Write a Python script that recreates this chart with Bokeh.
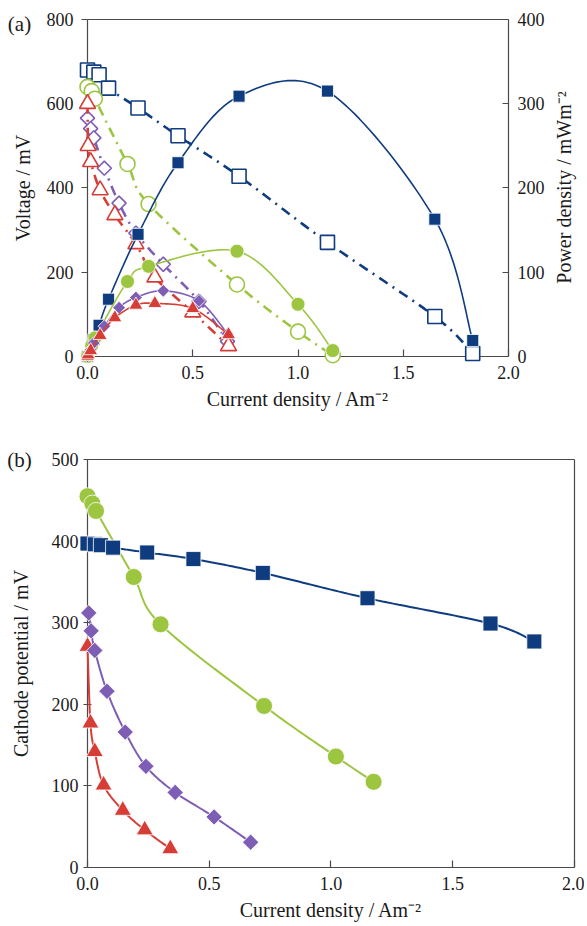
import numpy as np
from bokeh.plotting import figure
from bokeh.models import Range1d, LinearAxis, FixedTicker, PrintfTickFormatter
from bokeh.core.properties import value
from bokeh.layouts import column
from bokeh.embed import file_html
from bokeh.resources import INLINE

# ---------------- Panel (a): cell voltage (left axis, open) and power density (right axis, filled)
a_blue_I   = [0.0, 0.03, 0.055, 0.10, 0.24, 0.43, 0.72, 1.14, 1.65, 1.83]
a_blue_V   = [680, 675, 669, 637, 590, 524, 428, 271, 95, 7]
a_blue_P   = [0, 20, 37, 68, 145, 230, 309, 315, 163, 19]

a_green_I  = [0.0, 0.02, 0.035, 0.19, 0.29, 0.71, 1.0, 1.165]
a_green_V  = [640, 630, 612, 457, 362, 171, 59, 3]
a_green_P  = [0, 13, 22, 89, 107, 125, 62, 7]

a_purple_I = [0.0, 0.015, 0.03, 0.08, 0.15, 0.23, 0.36, 0.53, 0.665]
a_purple_V = [566, 541, 519, 447, 364, 293, 219, 131, 36]
a_purple_P = [0, 8, 16, 36, 58, 70, 78, 66, 27]

a_red_I    = [0.0, 0.003, 0.015, 0.06, 0.13, 0.23, 0.32, 0.50, 0.67]
a_red_V    = [600, 500, 462, 395, 336, 267, 188, 105, 25]
a_red_P    = [0, 2, 7, 25, 46, 61, 63, 57, 26]

# ---------------- Panel (b): cathode potential
b_blue_I   = [0.0, 0.03, 0.055, 0.105, 0.245, 0.435, 0.72, 1.15, 1.655, 1.835]
b_blue_E   = [397, 396, 395, 392, 386, 378, 361, 330, 299, 277]
b_green_I  = [0.0, 0.02, 0.035, 0.19, 0.30, 0.725, 1.02, 1.175]
b_green_E  = [455, 446, 437, 356, 298, 198, 136, 105]
b_purple_I = [0.005, 0.015, 0.03, 0.08, 0.155, 0.24, 0.36, 0.52, 0.67]
b_purple_E = [312, 290, 266, 216, 166, 124, 92, 62, 31]
b_red_I    = [0.0, 0.012, 0.03, 0.066, 0.145, 0.235, 0.34]
b_red_E    = [271, 177, 142, 101, 70, 46, 23]

x_ticks = [0, 0.5, 1.0, 1.5, 2.0]
a_v_ticks = [0, 200, 400, 600, 800]
a_p_ticks = [0, 100, 200, 300, 400]
b_ticks = [0, 100, 200, 300, 400, 500]

FONT = "Liberation Serif"
BLUE = "#0f3c7f"
GREEN = "#9cc540"
PURPLE = "#7e5eb5"
RED = "#d63d37"
AXC = "#4a4a4a"
TXT = "#1a1a1a"


def smooth(xs, ys, n=24):
    """Catmull-Rom curve through the given points (drawing only)."""
    x = np.asarray(xs, float)
    y = np.asarray(ys, float)
    px = np.concatenate([[x[0]], x, [x[-1]]])
    py = np.concatenate([[y[0]], y, [y[-1]]])
    t = np.linspace(0, 1, n, endpoint=False)
    ox, oy = [], []
    for i in range(1, len(px) - 2):
        for arr, out in ((px, ox), (py, oy)):
            p0, p1, p2, p3 = arr[i - 1], arr[i], arr[i + 1], arr[i + 2]
            out.extend(0.5 * (2 * p1 + (-p0 + p2) * t + (2 * p0 - 5 * p1 + 4 * p2 - p3) * t ** 2
                              + (-p0 + 3 * p1 - 3 * p2 + p3) * t ** 3))
    ox.append(x[-1])
    oy.append(y[-1])
    return ox, oy


def style_axis(ax, ticks, loc, bounds, fmt=None, tin=0, tout=6, standoff=8,
               label=None, lstand=6, show_labels=True):
    ax.fixed_location = loc
    ax.bounds = bounds
    ax.level = "underlay"
    ax.ticker = FixedTicker(ticks=ticks)
    ax.minor_tick_line_color = None
    ax.major_tick_in = tin
    ax.major_tick_out = tout
    ax.major_label_standoff = standoff
    ax.major_label_text_font = FONT
    ax.major_label_text_font_size = "18px"
    ax.major_label_text_color = TXT if show_labels else None
    ax.axis_line_color = AXC
    ax.major_tick_line_color = AXC if (tin or tout) else None
    ax.axis_line_width = 1.2
    ax.major_tick_line_width = 1.2
    if fmt:
        ax.formatter = PrintfTickFormatter(format=fmt)
    if label:
        ax.axis_label = label
        ax.axis_label_text_font = FONT
        ax.axis_label_text_font_size = "20px"
        ax.axis_label_text_font_style = "normal"
        ax.axis_label_text_color = TXT
        ax.axis_label_standoff = lstand


def add_text(p, x, y, s, size="20px", angle=0.0):
    p.text(x=[x], y=[y], text=[s], text_font=value(FONT), text_font_size=value(size),
           text_color=TXT, text_align="center", text_baseline="middle", angle=angle)


# ======================= Panel (a) =======================
# whole canvas is the frame; axes are pinned at the data edges
pa = figure(width=580, height=416, x_range=Range1d(-0.41330, 2.34204),
            y_range=Range1d(-142.43, 845.10), output_backend="svg", toolbar_location=None,
            min_border=0)
pa.extra_y_ranges = {"pow": Range1d(-71.22, 422.55)}
pa.grid.visible = False
pa.outline_line_color = None
style_axis(pa.xaxis[0], x_ticks, 0, (0, 2), "%.1f", tin=7, tout=0, standoff=9,
           label="Current density / Am\u207b\u00b2", lstand=6)
style_axis(pa.yaxis[0], a_v_ticks, 0, (0, 800), tin=0, tout=6, standoff=8,
           label="Voltage / mV", lstand=10)
ra = LinearAxis(y_range_name="pow")
pa.add_layout(ra, "right")
style_axis(ra, a_p_ticks, 2, (0, 400), tin=6, tout=0, standoff=9)
ta = LinearAxis()
pa.add_layout(ta, "above")
style_axis(ta, [], 800, (0, 2), tin=0, tout=0, show_labels=False)

DASH = "10 6 2 6"
a_volt = [
    (a_blue_I, a_blue_V, BLUE, "square", 14, 0.0),
    (a_green_I, a_green_V, GREEN, "circle", 15, 0.0),
    (a_purple_I, a_purple_V, PURPLE, "square", 10, np.pi / 4),
    (a_red_I, a_red_V, RED, "triangle", 16, 0.0),
]
for I, V, c, m, s, ang in a_volt:
    sx, sy = smooth(I, V)
    pa.line(sx, sy, line_color=c, line_width=2.6, line_dash=DASH)
    pa.scatter(I, V, marker=m, size=s, angle=ang, fill_color="white",
               line_color=c, line_width=1.6)

a_pow = [
    (a_blue_I, a_blue_P, BLUE, "square", 12, 0.0),
    (a_green_I, a_green_P, GREEN, "circle", 14, 0.0),
    (a_purple_I, a_purple_P, PURPLE, "square", 9, np.pi / 4),
    (a_red_I, a_red_P, RED, "triangle", 14, 0.0),
]
for I, P, c, m, s, ang in a_pow:
    sx, sy = smooth(I, P)
    pa.line(sx, sy, line_color=c, line_width=1.6, y_range_name="pow")
    pa.scatter(I, P, marker=m, size=s, angle=ang, fill_color=c,
               line_color="white", line_width=0.8, y_range_name="pow")

add_text(pa, -0.3230, 790.5, "(a)", size="21px")
add_text(pa, 2.2613, 401.2, "Power density / mWm\u207b\u00b2", angle=np.pi / 2)

# ======================= Panel (b) =======================
pb = figure(width=584, height=510, x_range=Range1d(-0.35729, 2.04107),
            y_range=Range1d(-72.30, 552.70), output_backend="svg", toolbar_location=None,
            min_border=0)
pb.grid.visible = False
pb.outline_line_color = None
style_axis(pb.xaxis[0], x_ticks, 0, (0, 2), "%.1f", tin=7, tout=0, standoff=9,
           label="Current density / Am\u207b\u00b2", lstand=6)
style_axis(pb.yaxis[0], b_ticks, 0, (0, 500), tin=4, tout=4, standoff=5,
           label="Cathode potential / mV", lstand=17)
rb = LinearAxis()
pb.add_layout(rb, "right")
style_axis(rb, [], 2, (0, 500), tin=0, tout=0, show_labels=False)
tb = LinearAxis()
pb.add_layout(tb, "above")
style_axis(tb, [], 500, (0, 2), tin=0, tout=0, show_labels=False)

b_series = [
    (b_red_I, b_red_E, RED, "triangle", 17, 0.0),
    (b_purple_I, b_purple_E, PURPLE, "square", 11.5, np.pi / 4),
    (b_green_I, b_green_E, GREEN, "circle", 17, 0.0),
    (b_blue_I, b_blue_E, BLUE, "square", 15, 0.0),
]
for I, E, c, m, s, ang in b_series:
    sx, sy = smooth(I, E)
    pb.line(sx, sy, line_color=c, line_width=2)
    pb.scatter(I, E, marker=m, size=s, angle=ang, fill_color=c,
               line_color="white", line_width=0.8)

add_text(pb, -0.2793, 498.8, "(b)", size="21px")

layout = column(pa, pb, spacing=0)
open("out.html", "w").write(file_html(layout, INLINE))
